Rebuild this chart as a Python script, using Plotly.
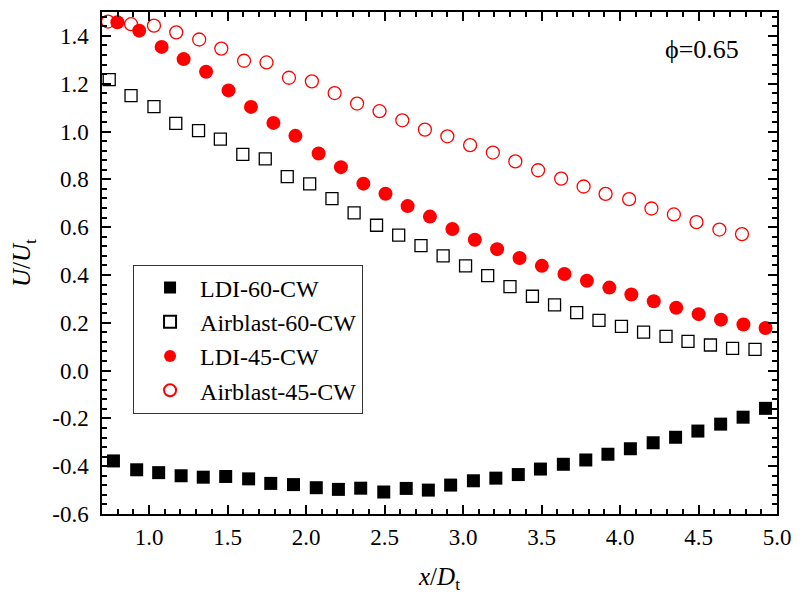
import plotly.graph_objects as go

# ---- data ----
ldi60_x = [0.773, 0.921, 1.061, 1.204, 1.345, 1.488, 1.634, 1.775, 1.920, 2.065,
           2.206, 2.348, 2.495, 2.638, 2.779, 2.921, 3.066, 3.209, 3.352, 3.493,
           3.639, 3.782, 3.923, 4.066, 4.211, 4.354, 4.496, 4.641, 4.784, 4.927]
ldi60_y = [-0.378, -0.415, -0.427, -0.440, -0.446, -0.443, -0.453, -0.472, -0.477, -0.490,
           -0.497, -0.492, -0.508, -0.493, -0.500, -0.479, -0.461, -0.450, -0.435, -0.412,
           -0.392, -0.374, -0.350, -0.327, -0.302, -0.279, -0.253, -0.224, -0.195, -0.158]

ab60_x = [0.746, 0.885, 1.031, 1.170, 1.315, 1.454, 1.597, 1.740, 1.880, 2.023,
          2.165, 2.306, 2.449, 2.590, 2.732, 2.873, 3.016, 3.157, 3.299, 3.442,
          3.583, 3.724, 3.866, 4.009, 4.150, 4.293, 4.433, 4.576, 4.717, 4.860]
ab60_y = [1.217, 1.150, 1.104, 1.034, 1.004, 0.968, 0.904, 0.886, 0.811, 0.781,
          0.719, 0.660, 0.608, 0.567, 0.523, 0.480, 0.438, 0.397, 0.351, 0.311,
          0.275, 0.242, 0.210, 0.185, 0.161, 0.143, 0.122, 0.107, 0.093, 0.089]

ldi45_x = [0.798, 0.937, 1.080, 1.220, 1.363, 1.506, 1.649, 1.792, 1.932, 2.080,
           2.222, 2.365, 2.506, 2.647, 2.789, 2.932, 3.075, 3.217, 3.360, 3.502,
           3.646, 3.789, 3.932, 4.072, 4.215, 4.358, 4.501, 4.643, 4.786, 4.927]
ldi45_y = [1.457, 1.422, 1.354, 1.303, 1.250, 1.172, 1.103, 1.036, 0.982, 0.908,
           0.851, 0.782, 0.740, 0.688, 0.644, 0.592, 0.547, 0.508, 0.471, 0.438,
           0.404, 0.376, 0.347, 0.318, 0.290, 0.263, 0.236, 0.213, 0.193, 0.178]

ab45_x = [0.738, 0.885, 1.031, 1.173, 1.319, 1.460, 1.605, 1.748, 1.891, 2.037,
          2.182, 2.325, 2.468, 2.613, 2.757, 2.900, 3.045, 3.190, 3.333, 3.478,
          3.625, 3.768, 3.908, 4.058, 4.200, 4.343, 4.487, 4.633, 4.777]
ab45_y = [1.460, 1.449, 1.443, 1.415, 1.385, 1.347, 1.296, 1.289, 1.225, 1.210,
          1.161, 1.117, 1.085, 1.047, 1.008, 0.980, 0.943, 0.912, 0.875, 0.838,
          0.803, 0.770, 0.739, 0.717, 0.678, 0.653, 0.621, 0.590, 0.571]

x_tickvals = [1.0, 1.5, 2.0, 2.5, 3.0, 3.5, 4.0, 4.5, 5.0]
x_ticktext = ["1.0", "1.5", "2.0", "2.5", "3.0", "3.5", "4.0", "4.5", "5.0"]
y_tickvals = [-0.6, -0.4, -0.2, 0.0, 0.2, 0.4, 0.6, 0.8, 1.0, 1.2, 1.4]
y_ticktext = ["-0.6", "-0.4", "-0.2", "0.0", "0.2", "0.4", "0.6", "0.8", "1.0", "1.2", "1.4"]

FONT = "Liberation Serif, Times New Roman, serif"
RED = "#ff0000"

fig = go.Figure()
fig.add_trace(go.Scatter(x=ldi60_x, y=ldi60_y, mode="markers", name="LDI-60-CW",
                         marker=dict(symbol="square", size=13, color="black",
                                     line=dict(width=0))))
fig.add_trace(go.Scatter(x=ab60_x, y=ab60_y, mode="markers", name="Airblast-60-CW",
                         marker=dict(symbol="square-open", size=12, color="black",
                                     line=dict(width=1.3, color="black"))))
fig.add_trace(go.Scatter(x=ldi45_x, y=ldi45_y, mode="markers", name="LDI-45-CW",
                         marker=dict(symbol="circle", size=14, color=RED,
                                     line=dict(width=0))))
fig.add_trace(go.Scatter(x=ab45_x, y=ab45_y, mode="markers", name="Airblast-45-CW",
                         marker=dict(symbol="circle-open", size=13, color=RED,
                                     line=dict(width=1.3, color=RED))))

axis_common = dict(
    showline=True, linecolor="black", linewidth=1.5, mirror="ticks",
    ticks="inside", ticklen=9, tickwidth=1.5, tickcolor="black",
    showgrid=False, zeroline=False,
    tickfont=dict(family=FONT, size=23, color="black"),
)

fig.update_xaxes(range=[0.7, 5.0], tickvals=x_tickvals, ticktext=x_ticktext,
                 ticklabelstandoff=2,
                 minor=dict(dtick=0.1, tick0=0.7, ticks="inside", ticklen=5,
                            tickwidth=1.5, tickcolor="black", showgrid=False),
                 title=dict(text="<i>x</i>/<i>D</i><sub>t</sub>",
                            font=dict(family=FONT, size=25, color="black"),
                            standoff=18),
                 **axis_common)
fig.update_yaxes(range=[-0.6, 1.5], tickvals=y_tickvals, ticktext=y_ticktext,
                 ticklabelstandoff=7,
                 minor=dict(dtick=0.04, tick0=-0.6, ticks="inside", ticklen=5,
                            tickwidth=1.5, tickcolor="black", showgrid=False),
                 title=dict(text="<i>U</i>/<i>U</i><sub>t</sub>",
                            font=dict(family=FONT, size=25, color="black"),
                            standoff=14),
                 **axis_common)

fig.add_annotation(text="ϕ=0.65", x=0.8886, y=0.925, xref="paper", yref="paper",
                   xanchor="center", yanchor="middle", showarrow=False,
                   font=dict(family=FONT, size=26, color="black"))

fig.update_layout(
    width=801, height=598,
    margin=dict(l=102, r=17, t=10, b=84),
    paper_bgcolor="white", plot_bgcolor="white",
    font=dict(family=FONT, color="black"),
    legend=dict(x=0.046, y=0.497, xanchor="left", yanchor="top",
                bgcolor="white", bordercolor="#333333", borderwidth=1,
                font=dict(family=FONT, size=24, color="black"),
                tracegroupgap=0, itemsizing="constant", itemwidth=50,
                indentation=6),
    showlegend=True,
)

fig.write_html("out.html")
